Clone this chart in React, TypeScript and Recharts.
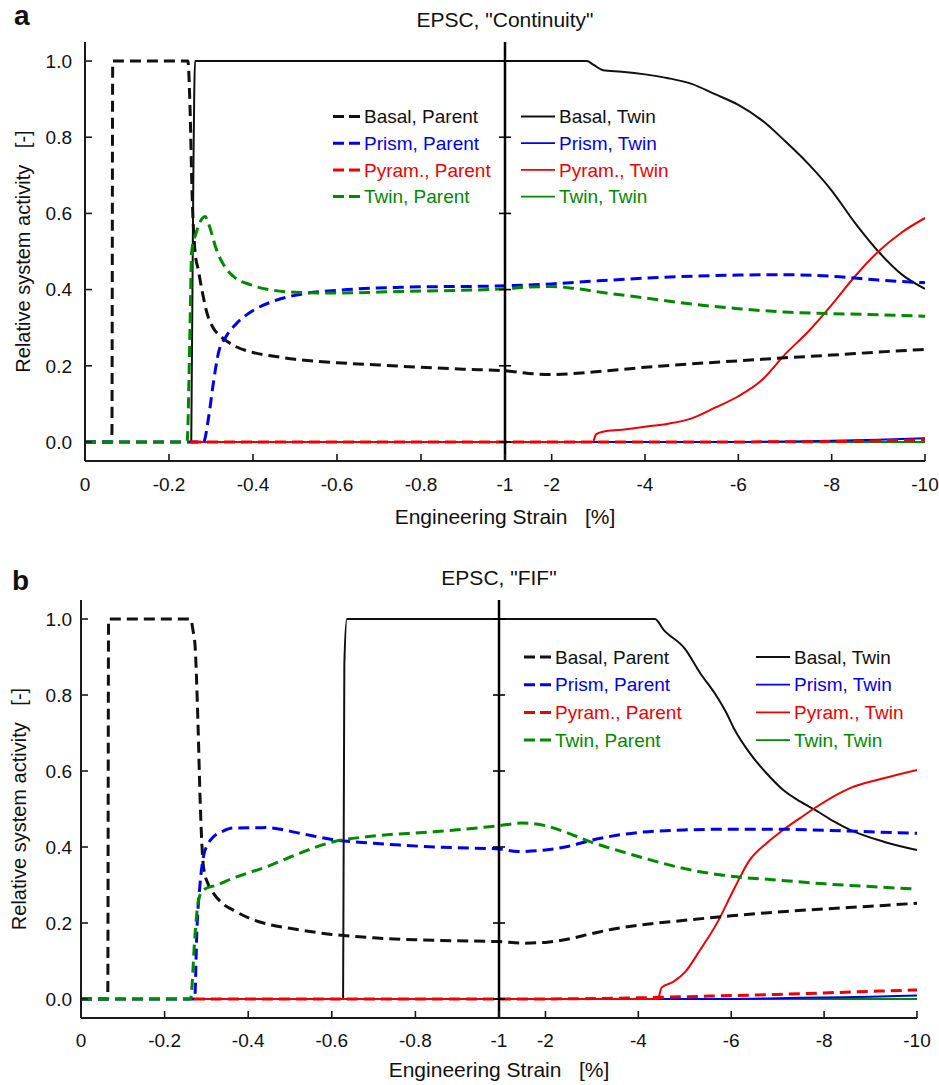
import React from 'react';
import { LineChart, Line, XAxis, YAxis, ReferenceLine, Legend } from 'recharts';

type Pt = [number, number];

// ---------- Panel a: EPSC, "Continuity" (strain %, relative activity) ----------
const A_BASAL_PARENT: Pt[] = [[0,0],[-0.064,0],[-0.066,1],[-0.245,1],[-0.25,0.88],[-0.255,0.65],[-0.262,0.5],[-0.27,0.45],[-0.28,0.39],[-0.29,0.34],[-0.305,0.3],[-0.32,0.28],[-0.337,0.265],[-0.36,0.25],[-0.4,0.235],[-0.45,0.225],[-0.5,0.217],[-0.6,0.208],[-0.7,0.202],[-0.8,0.196],[-0.9,0.191],[-1,0.187],[-1.5,0.18],[-2,0.177],[-3,0.185],[-4,0.196],[-5,0.205],[-6,0.213],[-7,0.221],[-8,0.228],[-9,0.236],[-10,0.243]];
const A_PRISM_PARENT: Pt[] = [[0,0],[-0.282,0],[-0.295,0.07],[-0.305,0.15],[-0.318,0.235],[-0.335,0.275],[-0.36,0.31],[-0.4,0.345],[-0.45,0.37],[-0.5,0.385],[-0.6,0.398],[-0.75,0.406],[-1,0.41],[-2,0.415],[-3,0.423],[-4,0.43],[-5,0.435],[-6,0.438],[-7,0.439],[-8,0.435],[-9,0.425],[-10,0.418]];
const A_PYRAM_PARENT: Pt[] = [[-0.25,0],[-1,0],[-5,0],[-8,0.001],[-9,0.003],[-10,0.006]];
const A_TWIN_PARENT: Pt[] = [[0,0],[-0.243,0],[-0.25,0.3],[-0.254,0.5],[-0.265,0.55],[-0.286,0.592],[-0.295,0.57],[-0.313,0.505],[-0.33,0.465],[-0.353,0.435],[-0.393,0.413],[-0.45,0.398],[-0.5,0.393],[-0.6,0.391],[-0.75,0.395],[-1,0.402],[-1.5,0.407],[-2,0.408],[-2.5,0.403],[-3,0.394],[-4,0.378],[-5,0.362],[-6,0.35],[-7,0.341],[-8,0.337],[-9,0.334],[-10,0.33]];
const A_BASAL_TWIN: Pt[] = [[-0.253,0],[-0.258,0.7],[-0.262,1],[-2.75,1],[-2.9,0.99],[-3.1,0.976],[-3.5,0.972],[-4,0.965],[-4.5,0.955],[-5,0.94],[-5.5,0.913],[-6,0.885],[-6.5,0.845],[-7,0.79],[-7.5,0.73],[-8,0.66],[-8.5,0.575],[-9,0.5],[-9.5,0.44],[-10,0.402]];
const A_PRISM_TWIN: Pt[] = [[-0.253,0],[-6,0],[-7,0.001],[-8,0.003],[-9,0.006],[-10,0.01]];
const A_PYRAM_TWIN: Pt[] = [[-0.253,0],[-2.88,0],[-2.95,0.02],[-3.1,0.027],[-3.5,0.032],[-4,0.04],[-4.5,0.048],[-5,0.062],[-5.5,0.09],[-6,0.12],[-6.5,0.162],[-7,0.23],[-7.5,0.29],[-8,0.36],[-8.5,0.435],[-9,0.5],[-9.5,0.55],[-10,0.588]];
const A_TWIN_TWIN: Pt[] = [[-0.253,0],[-10,0]];

// ---------- Panel b: EPSC, "FIF" ----------
const B_BASAL_PARENT: Pt[] = [[0,0],[-0.064,0],[-0.066,1],[-0.262,1],[-0.268,0.97],[-0.273,0.928],[-0.28,0.72],[-0.285,0.524],[-0.293,0.348],[-0.305,0.3],[-0.317,0.278],[-0.34,0.25],[-0.364,0.234],[-0.404,0.212],[-0.45,0.196],[-0.5,0.186],[-0.6,0.17],[-0.7,0.161],[-0.8,0.156],[-0.9,0.153],[-1,0.151],[-1.5,0.147],[-2,0.149],[-2.5,0.158],[-3,0.172],[-3.5,0.185],[-4,0.194],[-5,0.207],[-6,0.219],[-7,0.229],[-8,0.237],[-9,0.244],[-10,0.252]];
const B_PRISM_PARENT: Pt[] = [[0,0],[-0.272,0],[-0.277,0.173],[-0.285,0.305],[-0.293,0.375],[-0.305,0.41],[-0.317,0.427],[-0.34,0.442],[-0.364,0.45],[-0.444,0.451],[-0.524,0.436],[-0.604,0.419],[-0.7,0.41],[-0.763,0.405],[-0.9,0.398],[-1,0.395],[-1.4,0.388],[-2,0.392],[-2.5,0.402],[-3,0.418],[-3.5,0.43],[-4,0.438],[-5,0.445],[-6,0.447],[-7,0.447],[-8,0.444],[-9,0.44],[-10,0.436]];
const B_PYRAM_PARENT: Pt[] = [[-0.27,0],[-1,0],[-3,0.001],[-4,0.003],[-5,0.006],[-6,0.009],[-7,0.012],[-8,0.016],[-9,0.02],[-10,0.024]];
const B_TWIN_PARENT: Pt[] = [[0,0],[-0.262,0],[-0.273,0.173],[-0.281,0.26],[-0.293,0.287],[-0.325,0.3],[-0.364,0.318],[-0.444,0.348],[-0.524,0.384],[-0.604,0.414],[-0.683,0.427],[-0.843,0.44],[-1,0.456],[-1.5,0.463],[-2,0.456],[-2.5,0.436],[-3,0.412],[-3.5,0.393],[-4,0.375],[-4.5,0.358],[-5,0.343],[-6,0.323],[-7,0.313],[-8,0.303],[-9,0.296],[-10,0.289]];
const B_BASAL_TWIN: Pt[] = [[-0.26,0],[-0.627,0],[-0.63,0.88],[-0.636,1],[-4.36,1],[-4.54,0.972],[-5,0.922],[-5.33,0.858],[-5.69,0.796],[-5.9,0.752],[-6.05,0.714],[-6.4,0.647],[-6.76,0.594],[-7.12,0.55],[-7.48,0.52],[-7.84,0.495],[-8.2,0.468],[-8.56,0.445],[-9.28,0.414],[-10,0.392]];
const B_PRISM_TWIN: Pt[] = [[-0.26,0],[-6,0],[-7,0.002],[-8,0.004],[-9,0.006],[-10,0.009]];
const B_PYRAM_TWIN: Pt[] = [[-0.26,0],[-4.42,0],[-4.5,0.03],[-4.75,0.045],[-5,0.07],[-5.33,0.129],[-5.69,0.199],[-6.05,0.287],[-6.4,0.366],[-6.76,0.41],[-7.12,0.445],[-7.48,0.476],[-7.84,0.506],[-8.56,0.555],[-9.28,0.581],[-10,0.603]];
const B_TWIN_TWIN: Pt[] = [[-0.26,0],[-10,0]];

// ---------- Axes ----------
const STRAIN_TICKS = [0, -0.2, -0.4, -0.6, -0.8, -1, -2, -4, -6, -8, -10];
const STRAIN_TICK_LABELS = ['0', '-0.2', '-0.4', '-0.6', '-0.8', '-1', '-2', '-4', '-6', '-8', '-10'];
const ACTIVITY_TICKS = [0, 0.2, 0.4, 0.6, 0.8, 1.0];

const SERIES_NAMES = ['Basal', 'Prism', 'Pyram.', 'Twin'];
const SERIES_COLORS = ['#111111', '#0000f0', '#f00000', '#008a00'];

const X_LABEL = 'Engineering Strain\u00A0\u00A0\u00A0[%]';
const Y_LABEL = 'Relative system activity\u00A0\u00A0\u00A0[-]';

const FONT = '"Liberation Sans", Arial, Helvetica, sans-serif';

// split axis: 0..-1 linear on first half, -1..-10 linear on second half
const toU = (s: number) => (s >= -1 ? -s : 1 + (-s - 1) / 9);
const toRows = (pts: Pt[]) => pts.map(([s, v]) => ({ u: toU(s), v }));
const U_TICKS = STRAIN_TICKS.map(toU);
const fmtStrain = (val: number) => {
  const i = U_TICKS.findIndex((t) => Math.abs(t - val) < 1e-6);
  return i >= 0 ? STRAIN_TICK_LABELS[i] : '';
};

type PanelCfg = {
  top: number;
  height: number;
  plotLeft: number;
  plotRight: number;
  plotTop: number;
  plotBottom: number;
  letter: string;
  title: string;
  titleBaseline: number;
  letterX: number;
  letterBaseline: number;
  xTickMargin: number;
  yTickMargin: number;
  xLabelOffset: number;
  yLabelOffset: number;
  parents: Pt[][];
  twins: Pt[][];
  legendLeft: { lineX1: number; lineX2: number; textX: number };
  legendRight: { lineX1: number; lineX2: number; textX: number };
  legendRow0: number;
  legendRowStep: number;
};

const W = 939;
const DASH = '11 6';

function Panel({ cfg }: { cfg: PanelCfg }) {
  const plotW = cfg.plotRight - cfg.plotLeft;
  const dx = 6 / (plotW / 2);
  const axisStyle = { stroke: '#1a1a1a', strokeWidth: 2 };
  const tickLineStyle = { stroke: '#1a1a1a', strokeWidth: 1.6 };
  const tickStyle = { fill: '#111', fontSize: 19, fontFamily: FONT };

  const legendContent = () => (
    <svg width={W} height={cfg.height} style={{ position: 'absolute', left: 0, top: 0, pointerEvents: 'none' }}>
      {SERIES_NAMES.map((n, i) => {
        const cy = cfg.legendRow0 + i * cfg.legendRowStep;
        const base = cy + 6.7;
        return (
          <g key={n}>
            <line x1={cfg.legendLeft.lineX1} x2={cfg.legendLeft.lineX2} y1={cy} y2={cy} stroke={SERIES_COLORS[i]} strokeWidth={3} strokeDasharray="11 5" />
            <text x={cfg.legendLeft.textX} y={base} fill={SERIES_COLORS[i]} fontSize={19} fontFamily={FONT}>{`${n}, Parent`}</text>
            <line x1={cfg.legendRight.lineX1} x2={cfg.legendRight.lineX2} y1={cy} y2={cy} stroke={SERIES_COLORS[i]} strokeWidth={1.8} />
            <text x={cfg.legendRight.textX} y={base} fill={SERIES_COLORS[i]} fontSize={19} fontFamily={FONT}>{`${n}, Twin`}</text>
          </g>
        );
      })}
    </svg>
  );

  const twinOrder = [3, 1, 0, 2];
  const parentOrder = [0, 1, 3, 2];

  return (
    <div style={{ position: 'absolute', left: 0, top: cfg.top, width: W, height: cfg.height }}>
      <LineChart
        width={W}
        height={cfg.height}
        margin={{ top: cfg.plotTop, right: W - cfg.plotRight, bottom: 0, left: 0 }}
      >
        <XAxis
          xAxisId="b"
          dataKey="u"
          type="number"
          domain={[0, 2]}
          ticks={U_TICKS}
          tickFormatter={fmtStrain}
          allowDataOverflow
          height={cfg.height - cfg.plotBottom}
          tickSize={-7}
          tickMargin={cfg.xTickMargin}
          axisLine={axisStyle}
          tickLine={tickLineStyle}
          tick={tickStyle}
          interval={0}
          label={{
            value: X_LABEL,
            position: 'insideBottom',
            offset: cfg.xLabelOffset,
            style: { fill: '#111', fontSize: 21, fontFamily: FONT },
          }}
        />
        <XAxis
          xAxisId="t"
          orientation="top"
          dataKey="u"
          type="number"
          domain={[0, 2]}
          ticks={U_TICKS}
          allowDataOverflow
          height={0}
          tickSize={-7}
          tick={false}
          axisLine={axisStyle}
          tickLine={tickLineStyle}
          interval={0}
        />
        <YAxis
          yAxisId="l"
          type="number"
          domain={[-0.05, 1.05]}
          ticks={ACTIVITY_TICKS}
          tickFormatter={(v: number) => v.toFixed(1)}
          allowDataOverflow
          width={cfg.plotLeft}
          tickSize={-7}
          tickMargin={cfg.yTickMargin}
          axisLine={axisStyle}
          tickLine={tickLineStyle}
          tick={tickStyle}
          interval={0}
          label={{
            value: Y_LABEL,
            angle: -90,
            position: 'insideLeft',
            offset: cfg.yLabelOffset,
            textAnchor: 'middle',
            style: { fill: '#111', fontSize: 20, fontFamily: FONT, textAnchor: 'middle' },
          }}
        />
        <YAxis
          yAxisId="r"
          orientation="right"
          type="number"
          domain={[-0.05, 1.05]}
          ticks={ACTIVITY_TICKS}
          allowDataOverflow
          width={0}
          tickSize={-7}
          tick={false}
          axisLine={axisStyle}
          tickLine={tickLineStyle}
          interval={0}
        />
        {twinOrder.map((i) => (
          <Line
            key={`t${i}`}
            xAxisId="b"
            yAxisId="l"
            data={toRows(cfg.twins[i])}
            dataKey="v"
            type="monotoneX"
            stroke={SERIES_COLORS[i]}
            strokeWidth={2}
            dot={false}
            activeDot={false}
            isAnimationActive={false}
            name={`${SERIES_NAMES[i]}, Twin`}
          />
        ))}
        {parentOrder.map((i) => (
          <Line
            key={`p${i}`}
            xAxisId="b"
            yAxisId="l"
            data={toRows(cfg.parents[i])}
            dataKey="v"
            type="monotoneX"
            stroke={SERIES_COLORS[i]}
            strokeWidth={3}
            strokeDasharray={DASH}
            dot={false}
            activeDot={false}
            isAnimationActive={false}
            name={`${SERIES_NAMES[i]}, Parent`}
          />
        ))}
        <ReferenceLine xAxisId="b" yAxisId="l" x={1} stroke="#000" strokeWidth={2.5} />
        {ACTIVITY_TICKS.map((t) => (
          <ReferenceLine
            key={`dt${t}`}
            xAxisId="b"
            yAxisId="l"
            segment={[{ x: 1 - dx, y: t }, { x: 1 + dx, y: t }]}
            stroke="#000"
            strokeWidth={1.6}
          />
        ))}
        <Legend
          layout="vertical"
          verticalAlign="middle"
          align="center"
          wrapperStyle={{ left: 0, top: 0, width: W, height: cfg.height, pointerEvents: 'none' }}
          content={legendContent}
        />
      </LineChart>
      <svg width={W} height={cfg.height} style={{ position: 'absolute', left: 0, top: 0, pointerEvents: 'none' }}>
        <text x={cfg.letterX} y={cfg.letterBaseline} fontSize={28} fontWeight="bold" fontFamily={FONT} fill="#111">{cfg.letter}</text>
        <text x={(cfg.plotLeft + cfg.plotRight) / 2} y={cfg.titleBaseline} fontSize={21} fontFamily={FONT} fill="#111" textAnchor="middle">{cfg.title}</text>
      </svg>
    </div>
  );
}

const PANEL_A: PanelCfg = {
  top: 0,
  height: 540,
  plotLeft: 85,
  plotRight: 925,
  plotTop: 42,
  plotBottom: 461,
  letter: 'a',
  title: 'EPSC, "Continuity"',
  titleBaseline: 27,
  letterX: 14,
  letterBaseline: 25,
  xTickMargin: 24,
  yTickMargin: 20,
  xLabelOffset: 16,
  yLabelOffset: 23,
  parents: [A_BASAL_PARENT, A_PRISM_PARENT, A_PYRAM_PARENT, A_TWIN_PARENT],
  twins: [A_BASAL_TWIN, A_PRISM_TWIN, A_PYRAM_TWIN, A_TWIN_TWIN],
  legendLeft: { lineX1: 333, lineX2: 360, textX: 364 },
  legendRight: { lineX1: 521, lineX2: 555, textX: 559 },
  legendRow0: 116.5,
  legendRowStep: 26.7,
};

const PANEL_B: PanelCfg = {
  top: 540,
  height: 545,
  plotLeft: 81,
  plotRight: 917,
  plotTop: 60,
  plotBottom: 478,
  letter: 'b',
  title: 'EPSC, "FIF"',
  titleBaseline: 45,
  letterX: 12,
  letterBaseline: 50,
  xTickMargin: 23,
  yTickMargin: 16,
  xLabelOffset: 8,
  yLabelOffset: 19,
  parents: [B_BASAL_PARENT, B_PRISM_PARENT, B_PYRAM_PARENT, B_TWIN_PARENT],
  twins: [B_BASAL_TWIN, B_PRISM_TWIN, B_PYRAM_TWIN, B_TWIN_TWIN],
  legendLeft: { lineX1: 524, lineX2: 551, textX: 555 },
  legendRight: { lineX1: 756, lineX2: 790, textX: 794 },
  legendRow0: 117,
  legendRowStep: 27.7,
};

export default function App() {
  return (
    <div style={{ position: 'absolute', left: 0, top: 0, width: W, height: 1085, background: '#fff', overflow: 'hidden' }}>
      <Panel cfg={PANEL_A} />
      <Panel cfg={PANEL_B} />
    </div>
  );
}
